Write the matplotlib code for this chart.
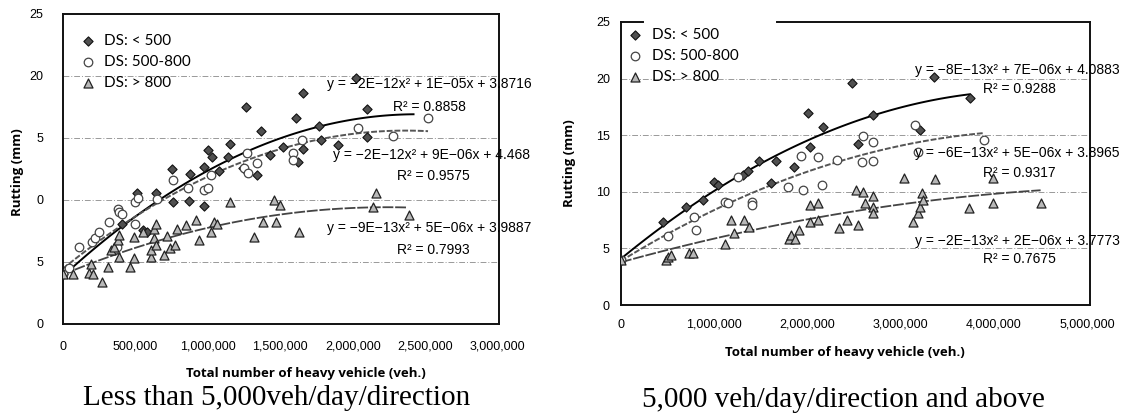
import numpy as np
import matplotlib
matplotlib.use("Agg")
import matplotlib.pyplot as plt
from matplotlib.ticker import FuncFormatter

# ---- data (x = heavy vehicles, y = rutting mm)
# left panel: less than 5,000 veh/day/direction
l_low_x = [0, 410000, 510000, 550000, 580000, 640000, 750000, 760000, 870000, 880000,
           970000, 970000, 1000000, 1030000, 1080000, 1140000, 1150000, 1240000, 1260000,
           1340000, 1370000, 1430000, 1520000, 1610000, 1620000, 1660000, 1660000,
           1770000, 1780000, 1900000, 2020000, 2100000, 2100000]
l_low_y = [4.0, 8.1, 10.6, 7.6, 7.4, 10.6, 12.5, 9.8, 9.9, 12.1,
           9.5, 12.7, 14.0, 13.5, 12.3, 13.5, 14.5, 12.6, 17.5,
           12.0, 15.6, 13.6, 14.3, 16.6, 13.1, 18.6, 14.1,
           16.0, 14.8, 14.4, 19.8, 17.3, 15.1]

l_mid_x = [0, 40000, 110000, 200000, 220000, 250000, 320000, 370000, 380000, 390000,
           410000, 500000, 500000, 520000, 650000, 760000, 860000, 970000, 1000000,
           1020000, 1250000, 1270000, 1280000, 1340000, 1590000, 1590000, 1650000,
           2040000, 2280000, 2520000]
l_mid_y = [4.0, 4.5, 6.2, 6.6, 6.9, 7.4, 8.2, 6.2, 9.3, 9.0,
           8.9, 9.8, 8.1, 10.2, 10.1, 11.6, 11.0, 10.8, 11.0,
           12.0, 12.6, 13.8, 12.2, 13.0, 13.8, 13.2, 14.8,
           15.8, 15.2, 16.6]

l_high_x = [0, 70000, 180000, 210000, 190000, 270000, 310000, 330000, 350000, 380000,
            390000, 390000, 460000, 490000, 490000, 550000, 610000, 610000, 630000,
            630000, 640000, 640000, 700000, 720000, 740000, 770000, 790000, 850000,
            920000, 940000, 1020000, 1040000, 1060000, 1150000, 1320000, 1380000,
            1470000, 1460000, 1500000, 1630000, 2140000, 2160000, 2390000]
l_high_y = [4.0, 4.0, 4.1, 4.0, 4.8, 3.4, 4.6, 6.0, 6.2, 6.8,
            7.2, 5.4, 4.6, 5.3, 7.0, 7.4, 5.4, 6.0, 6.9,
            7.7, 6.4, 8.1, 5.6, 7.1, 6.1, 6.4, 7.7, 8.0,
            8.4, 6.8, 7.4, 8.2, 8.1, 9.8, 7.0, 8.2,
            8.2, 10.0, 9.6, 7.4, 9.4, 10.6, 8.8]

# right panel: 5,000 veh/day/direction and above
r_low_x = [0, 450000, 700000, 880000, 1000000, 1040000, 1310000, 1360000, 1480000,
           1610000, 1660000, 1860000, 2010000, 2030000, 2170000, 2480000, 2540000,
           2700000, 3210000, 3360000, 3740000]
r_low_y = [4.0, 7.3, 8.7, 9.3, 10.9, 10.6, 11.5, 11.8, 12.7,
           10.8, 12.7, 12.2, 17.0, 14.0, 15.7, 19.6, 14.2,
           16.8, 15.5, 20.1, 18.3]

r_mid_x = [0, 500000, 780000, 800000, 1120000, 1150000, 1250000, 1410000, 1410000,
           1790000, 1930000, 1950000, 2110000, 2160000, 2320000, 2590000, 2600000,
           2700000, 2700000, 3150000, 3190000, 3890000]
r_mid_y = [4.0, 6.1, 7.8, 6.6, 9.1, 9.0, 11.3, 9.1, 8.8,
           10.4, 13.2, 10.2, 13.1, 10.6, 12.8, 12.6, 14.9,
           14.4, 12.7, 15.9, 13.5, 14.6]

r_high_x = [0, 480000, 500000, 540000, 730000, 770000, 1120000, 1180000, 1210000,
            1320000, 1370000, 1800000, 1820000, 1870000, 1910000, 2030000, 2030000,
            2110000, 2110000, 2340000, 2420000, 2520000, 2540000, 2600000, 2620000,
            2700000, 2700000, 2700000, 3030000, 3130000, 3180000, 3210000, 3230000,
            3240000, 3370000, 3730000, 3990000, 3990000, 4500000]
r_high_y = [4.0, 4.0, 4.2, 4.4, 4.6, 4.6, 5.4, 7.5, 6.4,
            7.5, 6.9, 5.8, 6.2, 5.8, 6.6, 8.8, 7.3,
            9.0, 7.5, 6.8, 7.5, 10.2, 7.1, 10.0, 9.0,
            9.6, 8.7, 8.1, 11.2, 7.3, 8.1, 8.7, 9.9,
            9.3, 11.1, 8.6, 11.2, 9.0, 9.0]

labels = ["DS: < 500", "DS: 500-800", "DS: > 800"]
left_eq = ["y = \u22122E\u221212x\u00b2 + 1E\u221205x + 3.8716", "R\u00b2 = 0.8858",
           "y = \u22122E\u221212x\u00b2 + 9E\u221206x + 4.468", "R\u00b2 = 0.9575",
           "y = \u22129E\u221213x\u00b2 + 5E\u221206x + 3.9887", "R\u00b2 = 0.7993"]
right_eq = ["y = \u22128E\u221213x\u00b2 + 7E\u221206x + 4.0883", "R\u00b2 = 0.9288",
            "y = \u22126E\u221213x\u00b2 + 5E\u221206x + 3.8965", "R\u00b2 = 0.9317",
            "y = \u22122E\u221213x\u00b2 + 2E\u221206x + 3.7773", "R\u00b2 = 0.7675"]
# intercepts printed in the trendline equations
left_intercept = [3.8716, 4.468, 3.9887]
right_intercept = [4.0883, 3.8965, 3.7773]
left_trend_end = [2420000, 2520000, 2380000]
right_trend_end = [3740000, 3890000, 4500000]
left_yticks = [0, 5, 10, 15, 20, 25]
left_ytick_text = ["0", "5", "0", "5", "20", "25"]   # as printed on the scan
left_xticks = [0, 500000, 1000000, 1500000, 2000000, 2500000, 3000000]
right_xticks = [0, 1000000, 2000000, 3000000, 4000000, 5000000]
captions = ["Less than 5,000veh/day/direction", "5,000 veh/day/direction and above"]

W, H = 1131, 416
fig = plt.figure(figsize=(W / 100, H / 100), dpi=100)


def px(x, y):
    return x / W, 1 - y / H


marker_styles = [
    dict(marker="D", s=22, facecolor="#505050", edgecolor="#111111", linewidths=0.8),
    dict(marker="o", s=38, facecolor="white", edgecolor="#444444", linewidths=0.9),
    dict(marker="^", s=42, facecolor="#b8b8b8", edgecolor="#222222", linewidths=0.9),
]
trend_styles = [
    dict(color="black", lw=1.4, ls="-"),
    dict(color="#555555", lw=1.4, ls=(0, (3, 1))),
    dict(color="#444444", lw=1.3, ls=(0, (6, 1))),
]
comma = FuncFormatter(lambda v, _: f"{int(v):,}")
tick_font = dict(family="Liberation Sans", size=9)
eq_font = dict(family="Liberation Sans", size=10)


def trend(xs, ys, c):
    # quadratic least squares with the printed intercept held fixed
    A = np.column_stack([xs ** 2, xs])
    (a, b), *_ = np.linalg.lstsq(A, ys - c, rcond=None)
    return a, b


def draw_panel(ax, series, intercepts, trend_end, xmax, xticks):
    for (xs, ys), st, ts, lab, c, xe in zip(series, marker_styles, trend_styles,
                                           labels, intercepts, trend_end):
        xs = np.array(xs, dtype=float)
        ys = np.array(ys, dtype=float)
        ax.scatter(xs, ys, label=lab, zorder=3, **st)
        a, b = trend(xs, ys, c)
        xx = np.linspace(0, xe, 100)
        ax.plot(xx, a * xx ** 2 + b * xx + c, zorder=2, **ts)
    ax.set_xlim(0, xmax)
    ax.set_ylim(0, 25)
    ax.set_xticks(xticks)
    ax.xaxis.set_major_formatter(comma)
    for yv in [5, 10, 15, 20]:
        ax.axhline(yv, color="#999999", lw=0.7, ls=(0, (6, 2, 1, 2)), zorder=1)
    ax.tick_params(length=0)
    for lab in ax.get_xticklabels() + ax.get_yticklabels():
        lab.set_fontfamily(tick_font["family"])
        lab.set_fontsize(tick_font["size"])
    for sp in ax.spines.values():
        sp.set_linewidth(1.4)
        sp.set_color("#111111")


legend_kw = dict(loc="upper left", frameon=False, prop=dict(family="Lato", size=11),
                 handletextpad=0.6, handlelength=1.0, labelspacing=0.45,
                 borderaxespad=0, scatterpoints=1)

# left panel
ax1 = fig.add_axes([63 / W, 1 - 324 / H, 436 / W, 310 / H])
draw_panel(ax1, [(l_low_x, l_low_y), (l_mid_x, l_mid_y), (l_high_x, l_high_y)],
           left_intercept, left_trend_end, 3010000, left_xticks)
ax1.set_yticks(left_yticks)
ax1.set_yticklabels(left_ytick_text, **tick_font)
ax1.tick_params(axis="x", pad=12)
ax1.tick_params(axis="y", pad=14)
ax1.set_ylabel("Rutting (mm)", family="Open Sans", weight="bold", fontsize=9.5)
ax1.yaxis.set_label_coords(-0.09, 0.49)
ax1.set_xlabel("Total number of heavy vehicle (veh.)", family="Open Sans",
               weight="bold", fontsize=9.5)
ax1.xaxis.set_label_coords(0.557, -0.14)
ax1.legend(bbox_to_anchor=(0.025, 0.955), **legend_kw)

# right panel
ax2 = fig.add_axes([621 / W, 1 - 305 / H, 469 / W, 283 / H])
draw_panel(ax2, [(r_low_x, r_low_y), (r_mid_x, r_mid_y), (r_high_x, r_high_y)],
           right_intercept, right_trend_end, 5030000, right_xticks)
ax2.set_yticks([0, 5, 10, 15, 20, 25])
ax2.tick_params(axis="x", pad=10)
ax2.tick_params(axis="y", pad=8)
ax2.spines["top"].set_visible(False)
for a, b in [(0, 0.046), (0.333, 1.0)]:
    ax2.plot([a, b], [1, 1], transform=ax2.transAxes, color="#111111", lw=1.4,
             clip_on=False)
ax2.set_ylabel("Rutting (mm)", family="Open Sans", weight="bold", fontsize=9.5)
ax2.yaxis.set_label_coords(-0.095, 0.5)
ax2.set_xlabel("Total number of heavy vehicle (veh.)", family="Open Sans",
               weight="bold", fontsize=9.5)
ax2.xaxis.set_label_coords(0.478, -0.145)
ax2.legend(bbox_to_anchor=(0.0, 1.0), **legend_kw)

# trendline equations (they run past the right frame on the scan)
left_pos = [(327, 84), (393, 107), (333, 155), (397, 176), (327, 228), (397, 250)]
right_pos = [(915, 70), (983, 89), (915, 153), (983, 173), (915, 241), (983, 259)]
for txt, (x, y) in zip(left_eq + right_eq, left_pos + right_pos):
    fx, fy = px(x, y)
    fig.text(fx, fy, txt, ha="left", va="center", **eq_font)

for txt, (x, y) in zip(captions, [(277, 398), (843, 400)]):
    fx, fy = px(x, y)
    fig.text(fx, fy, txt, ha="center", va="center", family="Liberation Serif",
             fontsize=21)

fig.savefig("out.png", dpi=100, facecolor="white")
